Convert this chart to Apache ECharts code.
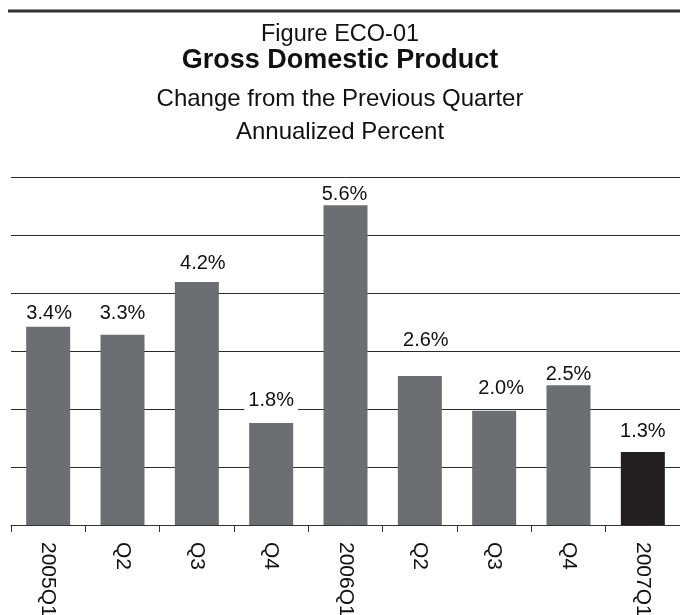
<!DOCTYPE html>
<html>
<head>
<meta charset="utf-8">
<script src="https://cdn.jsdelivr.net/npm/echarts@6/dist/echarts.min.js"></script>
<style>
  html, body { margin: 0; padding: 0; background: #fff; }
  #chart { width: 680px; height: 615px; }
</style>
</head>
<body>
<div id="chart"></div>
<script>
const categories = ['2005Q1', 'Q2', 'Q3', 'Q4', '2006Q1', 'Q2', 'Q3', 'Q4', '2007Q1'];
const growth = [3.42, 3.28, 4.19, 1.76, 5.60, 2.57, 1.97, 2.46, 1.26];
const titleLines = ['Figure ECO-01', 'Gross Domestic Product', 'Change from the Previous Quarter', 'Annualized Percent'];

// label nudges (style only)
const labelNudge = [[1, 3], [0, -5], [6, -2], [0, -6], [-1, 10], [6, -19], [7, -6], [0, 8], [0, -4]];

const FONT = '"Liberation Sans", Arial, Helvetica, sans-serif';
const BAR = '#6d6e71';
const HILITE = '#231f20';

const data = growth.map(function (v, i) {
  return {
    value: v,
    itemStyle: { color: i === growth.length - 1 ? HILITE : BAR },
    label: { offset: labelNudge[i], backgroundColor: i === 5 ? 'transparent' : '#fff' }
  };
});

const chart = echarts.init(document.getElementById('chart'), null, { renderer: 'canvas' });
chart.setOption({
  animation: false,
  backgroundColor: '#fff',
  textStyle: { fontFamily: FONT },
  graphic: [
    { type: 'line', shape: { x1: 8, y1: 11, x2: 680, y2: 11 }, style: { stroke: '#333', lineWidth: 3 } },
    { type: 'text', x: 340, y: 34.5, style: { text: titleLines[0], font: '23.5px ' + FONT, fill: '#111', align: 'center', verticalAlign: 'middle' } },
    { type: 'text', x: 340, y: 61, style: { text: titleLines[1], font: 'bold 27px ' + FONT, fill: '#111', align: 'center', verticalAlign: 'middle' } },
    { type: 'text', x: 340, y: 99.5, style: { text: titleLines[2], font: '24px ' + FONT, fill: '#111', align: 'center', verticalAlign: 'middle' } },
    { type: 'text', x: 340, y: 132.5, style: { text: titleLines[3], font: '24px ' + FONT, fill: '#111', align: 'center', verticalAlign: 'middle' } }
  ],
  grid: { left: 11, right: 0, top: 177, bottom: 90, containLabel: false, outerBoundsMode: 'none' },
  xAxis: {
    type: 'category',
    data: categories,
    axisLine: { show: true, lineStyle: { color: '#333', width: 1 } },
    axisTick: { show: true, length: 7, lineStyle: { color: '#333', width: 1 } },
    axisLabel: { rotate: -90, margin: 17, fontSize: 21, color: '#111', fontFamily: FONT, interval: 0 }
  },
  yAxis: {
    type: 'value',
    min: 0,
    max: 6,
    interval: 1,
    axisLine: { show: false },
    axisTick: { show: false },
    axisLabel: { show: false },
    splitLine: { show: true, lineStyle: { color: '#2b2b2b', width: 1 } }
  },
  series: [{
    type: 'bar',
    data: data,
    barWidth: 44,
    label: {
      show: true,
      position: 'top',
      distance: 5,
      fontSize: 20,
      fontFamily: FONT,
      color: '#111',
      backgroundColor: '#fff',
      padding: [1, 4, 1, 4],
      formatter: function (p) { return p.value.toFixed(1) + '%'; }
    }
  }]
});
</script>
</body>
</html>
